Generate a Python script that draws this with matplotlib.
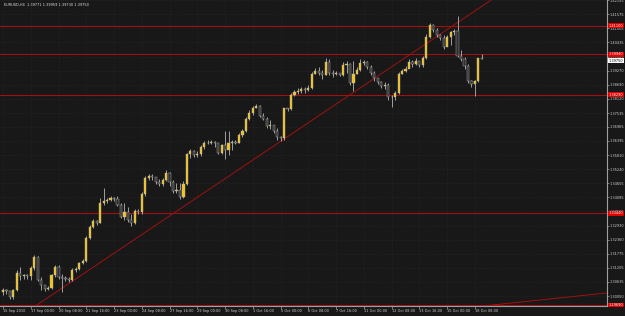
import matplotlib
matplotlib.use("Agg")
import matplotlib.pyplot as plt
import numpy as np

# EURUSD H4 candles (bar 0 = 15 Sep 2010 16:00)
first_open = 1.3022
closes = [
    1.3030, 1.3026, 1.3001, 1.3030, 1.3099, 1.3087, 1.3091, 1.3087, 1.3120, 1.3164,
    1.3071, 1.3050, 1.3034, 1.3038, 1.3091, 1.3124, 1.3083, 1.3079, 1.3075, 1.3071,
    1.3111, 1.3116, 1.3140, 1.3148, 1.3242, 1.3287, 1.3311, 1.3303, 1.3385, 1.3393,
    1.3397, 1.3405, 1.3401, 1.3376, 1.3327, 1.3348, 1.3315, 1.3303, 1.3352, 1.3348,
    1.3421, 1.3487, 1.3495, 1.3491, 1.3470, 1.3462, 1.3478, 1.3507, 1.3470, 1.3434,
    1.3438, 1.3409, 1.3462, 1.3584, 1.3597, 1.3580, 1.3588, 1.3613, 1.3633, 1.3629,
    1.3637, 1.3629, 1.3592, 1.3621, 1.3601, 1.3633, 1.3637, 1.3633, 1.3662, 1.3682,
    1.3731, 1.3755, 1.3776, 1.3784, 1.3743, 1.3731, 1.3702, 1.3706, 1.3682, 1.3654,
    1.3650, 1.3772, 1.3768, 1.3829, 1.3841, 1.3845, 1.3853, 1.3849, 1.3857, 1.3914,
    1.3927, 1.3919, 1.3910, 1.3963, 1.3919, 1.3914, 1.3919, 1.3910, 1.3951, 1.3955,
    1.3878, 1.3914, 1.3931, 1.3959, 1.3963, 1.3943, 1.3919, 1.3898, 1.3882, 1.3866,
    1.3870, 1.3821, 1.3817, 1.3837, 1.3914, 1.3927, 1.3935, 1.3963, 1.3955, 1.3967,
    1.3951, 1.3980, 1.4065, 1.4114, 1.4094, 1.4073, 1.4061, 1.4024, 1.4065, 1.4086,
    1.4090, 1.3988, 1.3976, 1.3947, 1.3886, 1.3874, 1.3886, 1.39771, 1.39750,
]
highs = [
    1.3038, 1.3034, 1.3026, 1.3034, 1.3111, 1.3123, 1.3095, 1.3095, 1.3128, 1.3173,
    1.3168, 1.3083, 1.3046, 1.3046, 1.3095, 1.3132, 1.3132, 1.3095, 1.3087, 1.3083,
    1.3120, 1.3124, 1.3144, 1.3156, 1.3250, 1.3295, 1.3319, 1.3315, 1.3405, 1.3446,
    1.3405, 1.3413, 1.3409, 1.3413, 1.3385, 1.3385, 1.3368, 1.3340, 1.3360, 1.3360,
    1.3429, 1.3495, 1.3503, 1.3503, 1.3491, 1.3483, 1.3487, 1.3519, 1.3511, 1.3478,
    1.3466, 1.3466, 1.3474, 1.3592, 1.3605, 1.3601, 1.3597, 1.3621, 1.3641, 1.3645,
    1.3645, 1.3641, 1.3633, 1.3625, 1.3678, 1.3682, 1.3645, 1.3645, 1.3670, 1.3690,
    1.3739, 1.3764, 1.3784, 1.3792, 1.3788, 1.3755, 1.3739, 1.3727, 1.3706, 1.3694,
    1.3658, 1.3776, 1.3776, 1.3837, 1.3849, 1.3857, 1.3861, 1.3861, 1.3870, 1.3923,
    1.3939, 1.3943, 1.3931, 1.3980, 1.3976, 1.3931, 1.3927, 1.3919, 1.3963, 1.3967,
    1.3959, 1.3967, 1.3943, 1.3976, 1.3971, 1.3967, 1.3951, 1.3927, 1.3898, 1.3886,
    1.3882, 1.3878, 1.3829, 1.3845, 1.3923, 1.3935, 1.3947, 1.3976, 1.3971, 1.3980,
    1.3967, 1.3988, 1.4077, 1.4122, 1.4118, 1.4102, 1.4077, 1.4073, 1.4073, 1.4090,
    1.4098, 1.4151, 1.4012, 1.3984, 1.3955, 1.3890, 1.3890, 1.3980, 1.39959,
]
lows = [
    1.3010, 1.3014, 1.2993, 1.2993, 1.3026, 1.3071, 1.3075, 1.3075, 1.3071, 1.3111,
    1.3067, 1.3030, 1.3026, 1.3030, 1.3034, 1.3083, 1.3075, 1.3022, 1.3067, 1.3063,
    1.3067, 1.3103, 1.3111, 1.3136, 1.3144, 1.3238, 1.3283, 1.3295, 1.3303, 1.3376,
    1.3385, 1.3393, 1.3393, 1.3372, 1.3323, 1.3315, 1.3307, 1.3291, 1.3299, 1.3340,
    1.3340, 1.3413, 1.3478, 1.3478, 1.3462, 1.3454, 1.3454, 1.3474, 1.3454, 1.3425,
    1.3425, 1.3401, 1.3405, 1.3458, 1.3568, 1.3572, 1.3572, 1.3576, 1.3605, 1.3625,
    1.3625, 1.3613, 1.3584, 1.3588, 1.3564, 1.3580, 1.3601, 1.3625, 1.3629, 1.3654,
    1.3674, 1.3723, 1.3747, 1.3772, 1.3739, 1.3723, 1.3694, 1.3690, 1.3670, 1.3645,
    1.3641, 1.3645, 1.3760, 1.3764, 1.3825, 1.3833, 1.3837, 1.3837, 1.3845, 1.3853,
    1.3914, 1.3910, 1.3894, 1.3910, 1.3910, 1.3902, 1.3910, 1.3906, 1.3906, 1.3919,
    1.3870, 1.3845, 1.3914, 1.3927, 1.3951, 1.3935, 1.3910, 1.3886, 1.3874, 1.3857,
    1.3853, 1.3808, 1.3780, 1.3808, 1.3833, 1.3914, 1.3923, 1.3943, 1.3943, 1.3951,
    1.3943, 1.3943, 1.3976, 1.4061, 1.4086, 1.4065, 1.4053, 1.4016, 1.4029, 1.4033,
    1.4073, 1.3984, 1.3967, 1.3935, 1.3878, 1.3861, 1.3825, 1.3882, 1.39730,
]

# time axis labels, one every 8 bars
time_labels = [
    "15 Sep 2010", "17 Sep 00:00", "20 Sep 08:00", "21 Sep 16:00", "23 Sep 00:00",
    "24 Sep 08:00", "27 Sep 16:00", "29 Sep 00:00", "30 Sep 08:00", "1 Oct 16:00",
    "5 Oct 00:00", "6 Oct 08:00", "7 Oct 16:00", "11 Oct 00:00", "12 Oct 08:00",
    "13 Oct 16:00", "15 Oct 00:00", "18 Oct 08:00",
]
label_step = 8

# price scale
price_ticks = [
    1.30050, 1.30635, 1.31205, 1.31775, 1.32360, 1.32930, 1.33515, 1.34085,
    1.34655, 1.35240, 1.35810, 1.36395, 1.36965, 1.37535, 1.38120, 1.38690,
    1.39270, 1.39845, 1.40435, 1.41005, 1.41575, 1.42155,
]

# horizontal levels and trend lines drawn on the chart
levels = [1.41100, 1.39940, 1.38290, 1.33440, 1.29690]
trend_a = [(9.8, 1.2969), (140.3, 1.4212)]
trend_b = [(141.2, 1.2969), (174.0, 1.3018)]

symbol = "EURUSD,H4"

BG = "#181818"
WICK = "#b4b4b4"
BULL = "#f5c518"
BEAR = "#2e2e2e"
RED = "#9e1212"
FS = 2.5

closes = np.array(closes)
highs = np.array(highs)
lows = np.array(lows)
opens = np.concatenate([[first_open], closes[:-1]])
idx = np.arange(len(closes))

fig = plt.figure(figsize=(6.25, 3.16), dpi=100, facecolor=BG)
ax = fig.add_axes([0.0, 10 / 316, 607 / 625, 306 / 316])
ax.set_facecolor(BG)

ax.set_xlim(-0.86, 174.06)
ax.set_ylim(1.29647, 1.42120)

# dotted grid
ax.set_axisbelow(True)
ax.grid(True, color="#2c2c2c", linestyle=(0, (1, 2)), linewidth=0.5)

# candles
ax.vlines(idx, lows, highs, color=WICK, linewidth=0.6, zorder=2)
bull = closes >= opens
body_lo = np.minimum(opens, closes)
body_h = np.maximum(np.abs(closes - opens), 0.00012)
ax.bar(idx[bull], body_h[bull], bottom=body_lo[bull], width=0.62,
       color=BULL, edgecolor=WICK, linewidth=0.3, zorder=3)
ax.bar(idx[~bull], body_h[~bull], bottom=body_lo[~bull], width=0.62,
       color=BEAR, edgecolor=WICK, linewidth=0.3, zorder=3)

# levels and trend lines
for lv in levels:
    ax.axhline(lv, color=RED, linewidth=0.8, zorder=1)
ax.axline(trend_a[0], trend_a[1], color=RED, linewidth=0.7, zorder=1)
ax.axline(trend_b[0], trend_b[1], color=RED, linewidth=0.7, zorder=1)

# axes look
for side in ("left", "top"):
    ax.spines[side].set_visible(False)
for side in ("right", "bottom"):
    ax.spines[side].set_color("#a0a0a0")
    ax.spines[side].set_linewidth(0.8)

ax.yaxis.tick_right()
ax.set_yticks(price_ticks, [f"{p:.5f}" for p in price_ticks])
ax.tick_params(axis="y", direction="out", length=1.5, width=0.5, colors="#a0a0a0",
               labelcolor="#d0d0d0", labelsize=FS, pad=0.6)

ax.set_xticks(np.arange(len(time_labels)) * label_step, time_labels)
ax.tick_params(axis="x", direction="out", length=2, width=0.5, colors="#a0a0a0",
               labelcolor="#d0d0d0", labelsize=FS, pad=0.5)
for t in ax.get_xticklabels():
    t.set_horizontalalignment("left")

# price tags on the right scale
ytr = ax.get_yaxis_transform()
for lv in levels:
    ax.text(1.003, lv, f"{lv:.5f}", transform=ytr, ha="left", va="center",
            fontsize=FS, color="white", clip_on=False, zorder=6,
            bbox=dict(boxstyle="square,pad=0.1", fc="#e00000", ec="none"))
ax.text(1.003, closes[-1], f"{closes[-1]:.5f}", transform=ytr, ha="left",
        va="top", fontsize=FS, color="black", clip_on=False, zorder=6,
        bbox=dict(boxstyle="square,pad=0.1", fc="white", ec="none"))

header = f"{symbol}  {opens[-1]:.5f} {highs[-1]:.5f} {lows[-1]:.5f} {closes[-1]:.5f}"
fig.text(4 / 625, 1 - 5 / 316, header, fontsize=FS, color="#e0e0e0",
         ha="left", va="center")

fig.savefig("out.png", dpi=100, facecolor=BG)
